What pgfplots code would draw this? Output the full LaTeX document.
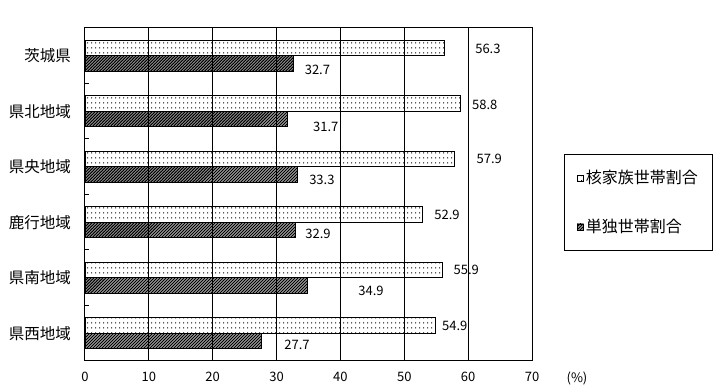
\documentclass[border=0pt]{standalone}
\usepackage{fontspec}
\setmainfont{Noto Sans CJK JP}
\usepackage{pgfplots}
\pgfplotsset{compat=1.18}
\usetikzlibrary{patterns}

\pgfdeclarepatternformonly{sdots}{\pgfpointorigin}{\pgfqpoint{3.6bp}{4.6bp}}{\pgfqpoint{3.6bp}{4.6bp}}{\pgfpathrectangle{\pgfqpoint{1.3bp}{1.8bp}}{\pgfqpoint{1bp}{1bp}}\pgfusepath{fill}}
\pgfdeclarepatternformonly{hatch}{\pgfqpoint{-1bp}{-1bp}}{\pgfqpoint{4bp}{4bp}}{\pgfqpoint{3bp}{3bp}}{\pgfsetlinewidth{1.4bp}\pgfpathmoveto{\pgfqpoint{0bp}{0bp}}\pgfpathlineto{\pgfqpoint{3.1bp}{3.1bp}}\pgfusepath{stroke}}

\newcommand{\numfont}{\fontsize{13bp}{13bp}\selectfont}
\newcommand{\labfont}{\fontsize{15.5bp}{16bp}\selectfont}
\newcommand{\legfont}{\fontsize{16bp}{16bp}\selectfont}

\begin{document}
\begin{tikzpicture}
\begin{axis}[name=ax, scale only axis, width=447bp, height=333bp,
  xbar, y dir=reverse,
  xmin=0, xmax=70, ymin=-0.5, ymax=5.5,
  xtick={0,10,...,70},
  ytick={0,...,5},
  yticklabels={茨城県,県北地域,県央地域,鹿行地域,県南地域,県西地域},
  minor ytick={0.5,1.5,...,4.5},
  ytick pos=left, xtick pos=bottom,
  major tick length=0pt, minor tick length=4bp, tick align=inside,
  minor tick style={black, line width=1bp},
  xmajorgrids, grid style={black, line width=1bp},
  axis line style={black, line width=1bp},
  bar width=0.28,
  /pgf/number format/assume math mode=true,
  xticklabel style={font=\numfont, inner sep=0pt, anchor=north, yshift=-11bp},
  yticklabel style={font=\labfont, inner sep=0pt, anchor=east, xshift=-14bp},
  clip=false,
  legend style={at={(axis description cs:1.0716,0.6216)}, anchor=north west,
    draw=black, line width=1bp, font=\legfont, inner xsep=12.5bp, inner ysep=14bp,
    row sep=30bp},
  legend cell align=left,
  legend image code/.code={\draw[#1, line width=0.8bp] (0bp,-3bp) rectangle (6bp,3bp);},
]
\addplot[draw=black, line width=0.8bp, pattern=sdots, bar shift=-0.14]
  coordinates {(56.3,0) (58.8,1) (57.9,2) (52.9,3) (55.9,4) (54.9,5)};
\addlegendentry{核家族世帯割合}
\addplot[draw=black, line width=0.8bp, pattern=hatch, bar shift=0.14]
  coordinates {(32.7,0) (31.7,1) (33.3,2) (32.9,3) (34.9,4) (27.7,5)};
\addlegendentry{単独世帯割合}

\node[font=\numfont] at (axis cs:63.1,-0.12) {56.3};
\node[font=\numfont] at (axis cs:36.4,0.257) {32.7};
\node[font=\numfont] at (axis cs:62.6,0.887) {58.8};
\node[font=\numfont] at (axis cs:37.7,1.284) {31.7};
\node[font=\numfont] at (axis cs:63.3,1.86) {57.9};
\node[font=\numfont] at (axis cs:37.1,2.24) {33.3};
\node[font=\numfont] at (axis cs:56.7,2.87) {52.9};
\node[font=\numfont] at (axis cs:36.5,3.21) {32.9};
\node[font=\numfont] at (axis cs:59.7,3.86) {55.9};
\node[font=\numfont] at (axis cs:44.8,4.24) {34.9};
\node[font=\numfont] at (axis cs:57.9,4.87) {54.9};
\node[font=\numfont] at (axis cs:33.2,5.21) {27.7};
\node[font=\numfont] at (axis description cs:1.1007,0) [yshift=-17bp] {(\%)};
\end{axis}
\path ([shift={(-85bp,-29bp)}]ax.south west) rectangle ([shift={(191bp,28bp)}]ax.north east);
\end{tikzpicture}
\end{document}
